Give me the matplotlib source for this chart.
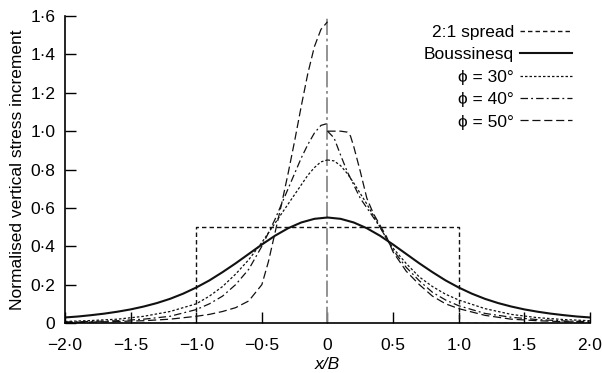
import numpy as np
import matplotlib.pyplot as plt

plt.switch_backend("Agg")
plt.rcParams["font.family"] = ["Liberation Sans", "DejaVu Sans"]

# Boussinesq strip load, z = B
x_bous = [-2.0, -1.9, -1.8, -1.7, -1.6, -1.5, -1.4, -1.3, -1.2, -1.1, -1.0, -0.9, -0.8,
          -0.7, -0.6, -0.5, -0.4, -0.3, -0.2, -0.1, 0.0, 0.1, 0.2, 0.3, 0.4, 0.5, 0.6,
          0.7, 0.8, 0.9, 1.0, 1.1, 1.2, 1.3, 1.4, 1.5, 1.6, 1.7, 1.8, 1.9, 2.0]
bous = [0.029, 0.034, 0.041, 0.049, 0.059, 0.071, 0.086, 0.104, 0.126, 0.153, 0.185,
        0.222, 0.265, 0.311, 0.360, 0.409, 0.455, 0.494, 0.524, 0.543, 0.550, 0.543,
        0.524, 0.494, 0.455, 0.409, 0.360, 0.311, 0.265, 0.222, 0.185, 0.153, 0.126,
        0.104, 0.086, 0.071, 0.059, 0.049, 0.041, 0.034, 0.029]

# 2:1 spread
x_spread = [-2.0, -1.0, -1.0, 1.0, 1.0, 2.0]
spread = [0.0, 0.0, 0.5, 0.5, 0.0, 0.0]

# left branches (x <= 0)
x_left = [-2.0, -1.8, -1.6, -1.4, -1.2, -1.0, -0.9, -0.8, -0.7, -0.6, -0.5, -0.45,
          -0.4, -0.35, -0.3, -0.25, -0.2, -0.15, -0.1, -0.05, 0.0]
phi30_left = [0.008, 0.013, 0.020, 0.035, 0.060, 0.100, 0.140, 0.190, 0.255, 0.330,
              0.420, 0.470, 0.520, 0.570, 0.620, 0.670, 0.720, 0.770, 0.810, 0.840, 0.850]
phi40_left = [0.005, 0.008, 0.012, 0.020, 0.035, 0.070, 0.100, 0.140, 0.200, 0.280,
              0.400, 0.470, 0.540, 0.620, 0.700, 0.780, 0.860, 0.930, 0.990, 1.030, 1.040]
phi50_left = [0.003, 0.005, 0.008, 0.012, 0.020, 0.035, 0.045, 0.060, 0.080, 0.115,
              0.200, 0.320, 0.470, 0.620, 0.780, 0.950, 1.130, 1.300, 1.440, 1.530, 1.570]

# right branches (x >= 0)
x_right = [0.0, 0.05, 0.1, 0.15, 0.2, 0.25, 0.3, 0.35, 0.4, 0.45, 0.5, 0.6, 0.7,
           0.8, 0.9, 1.0, 1.2, 1.4, 1.6, 1.8, 2.0]
phi30_right = [0.850, 0.845, 0.820, 0.780, 0.730, 0.675, 0.620, 0.560, 0.500, 0.440,
               0.390, 0.310, 0.240, 0.190, 0.150, 0.120, 0.075, 0.045, 0.028, 0.018, 0.012]
phi40_right = [1.000, 0.965, 0.875, 0.790, 0.720, 0.650, 0.600, 0.550, 0.500, 0.440,
               0.380, 0.290, 0.220, 0.160, 0.120, 0.090, 0.050, 0.030, 0.018, 0.011, 0.007]
x_right50 = [0.0, 0.05, 0.1, 0.15, 0.175, 0.2, 0.25, 0.3, 0.35, 0.4, 0.45, 0.5, 0.6,
             0.7, 0.8, 0.9, 1.0, 1.2, 1.4, 1.6, 1.8, 2.0]
phi50_right = [1.000, 1.000, 1.000, 0.995, 0.975, 0.920, 0.790, 0.650, 0.570, 0.510,
               0.450, 0.370, 0.270, 0.200, 0.140, 0.100, 0.075, 0.040, 0.020, 0.012,
               0.007, 0.004]

xticks = [-2.0, -1.5, -1.0, -0.5, 0.0, 0.5, 1.0, 1.5, 2.0]
xticklabels = ["\u22122\u00b70", "\u22121\u00b75", "\u22121\u00b70", "\u22120\u00b75", "0",
               "0\u00b75", "1\u00b70", "1\u00b75", "2\u00b70"]
yticks = [0.0, 0.2, 0.4, 0.6, 0.8, 1.0, 1.2, 1.4, 1.6]
yticklabels = ["0", "0\u00b72", "0\u00b74", "0\u00b76", "0\u00b78", "1\u00b70", "1\u00b72",
               "1\u00b74", "1\u00b76"]

fig = plt.figure(figsize=(6.02, 3.73), dpi=100)
ax = fig.add_axes([0.108, 0.134, 0.872, 0.823])

k = "#111111"
ax.plot([0, 0], [0, 1.6], color="#8a8a8a", lw=1.3, dashes=(9, 2, 1.5, 2))
ax.plot(x_spread, spread, color=k, lw=1.0, dashes=(3.2, 2.2), label="2:1 spread")
ax.plot(x_bous, bous, color=k, lw=1.5, label="Boussinesq")
ax.plot(x_left, phi30_left, color=k, lw=0.9, dashes=(2, 1.6),
        label="\u03d5 = 30\u00b0")
ax.plot(x_right, phi30_right, color=k, lw=0.9, dashes=(2, 1.6))
ax.plot(x_left, phi40_left, color=k, lw=0.9, dashes=(6, 2.5, 1.5, 2.5),
        label="\u03d5 = 40\u00b0")
ax.plot(x_right, phi40_right, color=k, lw=0.9, dashes=(6, 2.5, 1.5, 2.5))
ax.plot(x_left, phi50_left, color=k, lw=0.9, dashes=(6.5, 3),
        label="\u03d5 = 50\u00b0")
ax.plot(x_right50, phi50_right, color=k, lw=0.9, dashes=(6.5, 3))

ax.set_xlim(-2.0, 2.0)
ax.set_ylim(0, 1.6)
ax.set_xticks(xticks)
ax.set_xticklabels(xticklabels)
ax.set_yticks(yticks)
ax.set_yticklabels(yticklabels)
ax.tick_params(direction="in", length=8, width=1.0, labelsize=12.5)
ax.tick_params(axis="x", pad=11)
ax.tick_params(axis="y", pad=7)
for s in ["top", "right"]:
    ax.spines[s].set_visible(False)
for s in ["left", "bottom"]:
    ax.spines[s].set_linewidth(1.2)
ax.set_xlabel("x/B", fontsize=12.5, style="italic", labelpad=3)
ax.set_ylabel("Normalised vertical stress increment", fontsize=12.5, labelpad=4)

ax.legend(loc="upper right", bbox_to_anchor=(0.966, 0.972), frameon=False,
          markerfirst=False, fontsize=12.5, handlelength=3.0, handletextpad=0.35,
          labelspacing=0.42, borderaxespad=0, borderpad=0)

fig.savefig("out.png", dpi=100)
